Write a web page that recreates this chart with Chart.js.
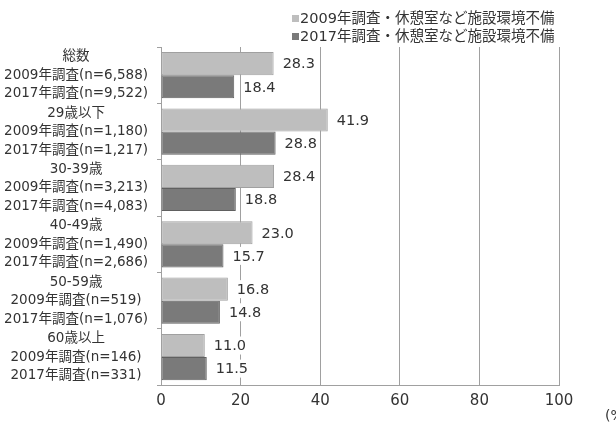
<!DOCTYPE html>
<html lang="ja">
<head>
<meta charset="utf-8">
<script src="https://cdn.jsdelivr.net/npm/chart.js@4/dist/chart.umd.min.js"></script>
<style>
    html, body { margin: 0; padding: 0; background: #ffffff; }
    #wrap { width: 616px; height: 422px; position: relative; }
</style>
</head>
<body>
<div id="wrap"><canvas id="chart-shisetsu"></canvas></div>
<script>
// データ
const kategori = [
    ['総数', '2009年調査(n=6,588)', '2017年調査(n=9,522)'],
    ['29歳以下', '2009年調査(n=1,180)', '2017年調査(n=1,217)'],
    ['30-39歳', '2009年調査(n=3,213)', '2017年調査(n=4,083)'],
    ['40-49歳', '2009年調査(n=1,490)', '2017年調査(n=2,686)'],
    ['50-59歳', '2009年調査(n=519)', '2017年調査(n=1,076)'],
    ['60歳以上', '2009年調査(n=146)', '2017年調査(n=331)']
];
const seriesNames = ['2009年調査・休憩室など施設環境不備', '2017年調査・休憩室など施設環境不備'];
const nilai2009 = [28.3, 41.9, 28.4, 23.0, 16.8, 11.0];
const nilai2017 = [18.4, 28.8, 18.8, 15.7, 14.8, 11.5];
const xTicks = [0, 20, 40, 60, 80, 100];
const unitLabel = '(%)';

const fontFamily = '"DejaVu Sans", "Noto Sans CJK JP", sans-serif';
const textColor = '#333333';
const gridColor = '#a0a0a0';

// ラベル描画（白背景付き）
const valueLabelPlugin = {
    id: 'valueLabels',
    afterDatasetsDraw(chart) {
        const ctx = chart.ctx;
        ctx.save();
        ctx.font = '14.5px ' + fontFamily;
        ctx.textBaseline = 'middle';
        ctx.textAlign = 'left';
        chart.data.datasets.forEach((ds, i) => {
            const meta = chart.getDatasetMeta(i);
            meta.data.forEach((bar, j) => {
                const txt = ds.data[j].toFixed(1);
                const x = bar.x + 9;
                const w = ctx.measureText(txt).width;
                ctx.fillStyle = '#ffffff';
                ctx.fillRect(x - 2, bar.y - 9, w + 4, 18);
                ctx.fillStyle = textColor;
                ctx.fillText(txt, x, bar.y + 1);
            });
        });
        ctx.restore();
    }
};

// 凡例と単位
const legendPlugin = {
    id: 'customLegend',
    afterDraw(chart) {
        const ctx = chart.ctx;
        ctx.save();
        ctx.font = '14.5px ' + fontFamily;
        ctx.textBaseline = 'middle';
        ctx.textAlign = 'left';
        chart.data.datasets.forEach((ds, i) => {
            const y = 19 + i * 18;
            ctx.fillStyle = ds.backgroundColor;
            ctx.fillRect(292, y - 4, 7, 7);
            ctx.fillStyle = textColor;
            ctx.fillText(seriesNames[i], 300, y);
        });
        ctx.font = '14px ' + fontFamily;
        ctx.fillText(unitLabel, 605, 416);
        ctx.restore();
    }
};

new Chart(document.getElementById('chart-shisetsu'), {
    type: 'bar',
    data: {
        labels: kategori,
        datasets: [{
            label: seriesNames[0],
            data: nilai2009,
            backgroundColor: '#bebebe',
            borderColor: '#a0a0a0',
            borderWidth: 1,
            borderSkipped: false
        }, {
            label: seriesNames[1],
            data: nilai2017,
            backgroundColor: '#7a7a7a',
            borderColor: '#606060',
            borderWidth: 1,
            borderSkipped: false
        }]
    },
    plugins: [valueLabelPlugin, legendPlugin],
    options: {
        indexAxis: 'y',
        responsive: true,
        maintainAspectRatio: false,
        animation: false,
        categoryPercentage: 0.82,
        barPercentage: 1.0,
        layout: {
            padding: { top: 47, right: 57, left: 0, bottom: 0 }
        },
        plugins: {
            legend: { display: false },
            tooltip: { enabled: false }
        },
        scales: {
            x: {
                min: 0,
                max: 100,
                afterBuildTicks(scale) {
                    scale.ticks = xTicks.map(v => ({ value: v }));
                },
                afterFit(scale) { scale.height = 32; },
                grid: {
                    color: gridColor,
                    lineWidth: 1,
                    drawTicks: false
                },
                border: { color: gridColor },
                ticks: {
                    color: textColor,
                    padding: 7,
                    font: { family: fontFamily, size: 15 }
                }
            },
            y: {
                afterFit(scale) { scale.width = 161; },
                grid: {
                    offset: true,
                    drawOnChartArea: false,
                    color: gridColor,
                    tickLength: 4
                },
                border: { color: gridColor },
                ticks: {
                    color: textColor,
                    padding: 9,
                    crossAlign: 'center',
                    font: { family: fontFamily, size: 13.5, lineHeight: 1.37 }
                }
            }
        }
    }
});
</script>
</body>
</html>
